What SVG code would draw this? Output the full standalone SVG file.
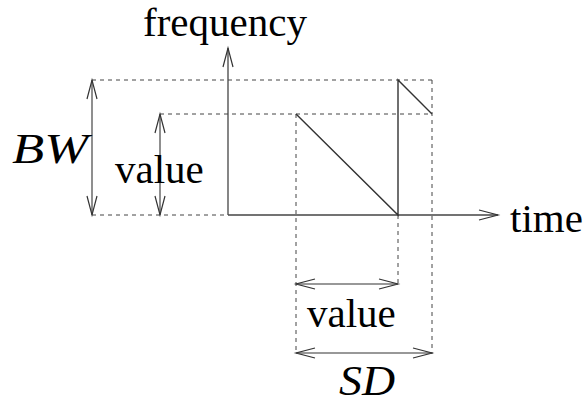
<svg xmlns="http://www.w3.org/2000/svg" width="587" height="405" viewBox="0 0 587 405">
<defs>
<style>
.dash{stroke:#444;stroke-width:1;stroke-dasharray:4 4;fill:none}
.solid{stroke:#333;stroke-width:1.4;fill:none}
.dim{stroke:#333;stroke-width:1.1;fill:none;marker-start:url(#ah);marker-end:url(#ah)}
.ax{stroke:#444;stroke-width:1.3;fill:none;marker-end:url(#ah)}
.t{font-family:"Liberation Serif","Times New Roman",serif;font-size:41px;fill:#000}
.m{font-family:"Liberation Serif","Times New Roman",serif;font-size:42px;font-style:italic;fill:#000}
</style>
<marker id="ah" markerUnits="userSpaceOnUse" markerWidth="24" markerHeight="14" viewBox="-20 -7 24 14" refX="0" refY="0" orient="auto-start-reverse">
<path d="M-19,-5 L0,0 L-19,5" fill="none" stroke="#333" stroke-width="1.2"/>
</marker>
</defs>
<g id="guides">
<line class="dash" x1="92" y1="80" x2="432" y2="80"/>
<line class="dash" x1="160" y1="114" x2="432" y2="114"/>
<line class="dash" x1="92" y1="215" x2="228" y2="215"/>
<line class="dash" x1="296" y1="114" x2="296" y2="354"/>
<line class="dash" x1="432" y1="80" x2="432" y2="354"/>
<line class="dash" x1="398" y1="215" x2="398" y2="284"/>
</g>
<g id="axes">
<line class="ax" x1="228" y1="215" x2="228" y2="48"/>
<line class="ax" x1="228" y1="215" x2="498" y2="215"/>
</g>
<g id="signal">
<polyline class="solid" points="296,114 398,215 398,80 432,114"/>
</g>
<g id="connectors">
<line class="dim" x1="92" y1="80" x2="92" y2="215"/>
<line class="dim" x1="160" y1="114" x2="160" y2="215"/>
<line class="dim" x1="296" y1="284" x2="398" y2="284"/>
<line class="dim" x1="296" y1="353" x2="432" y2="353"/>
</g>
<g id="labels">
<text class="t" x="143" y="36">frequency</text>
<text class="t" x="510" y="232">time</text>
<text class="t" x="115" y="183">value</text>
<text class="t" x="307" y="327">value</text>
<text class="m" x="12" y="163" textLength="76" lengthAdjust="spacingAndGlyphs">BW</text>
<text class="m" x="339" y="395" font-size="40" textLength="56" lengthAdjust="spacingAndGlyphs">SD</text>
</g>
</svg>
